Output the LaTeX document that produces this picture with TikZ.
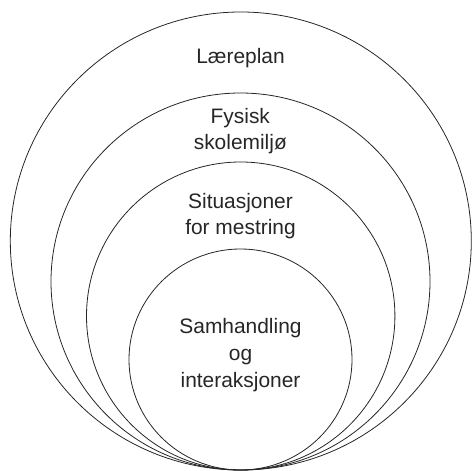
\documentclass[tikz,border=0pt]{standalone}
\usepackage{fontspec}
\setmainfont{Liberation Sans}
\begin{document}
\begin{tikzpicture}[x=1bp,y=-1bp,
  ring/.style={draw=black!85,line width=0.8bp},
  lbl/.style={align=center,inner sep=0pt,text=black!85,font=\fontsize{21}{26}\selectfont}]
\useasboundingbox (0,0) rectangle (472,471);
\draw[ring] (240.8,241) ellipse [x radius=230.5,y radius=229];
\draw[ring] (240.5,281.5) ellipse [x radius=189.5,y radius=188.5];
\draw[ring] (240.7,316) ellipse [x radius=154.2,y radius=154];
\draw[ring] (240.5,359.5) ellipse [x radius=111.5,y radius=110.5];
\node[lbl,anchor=base] (laereplan) at (240.5,63.3) {Læreplan};
\node[lbl] (fysisk) at (240.3,131.4) {Fysisk\\skolemiljø};
\node[lbl] (situasjoner) at (240.5,215.9) {Situasjoner\\for mestring};
\node[lbl,font=\fontsize{21}{27.5}\selectfont] (samhandling) at (240.5,355) {Samhandling\\og\\interaksjoner};
\end{tikzpicture}
\end{document}
